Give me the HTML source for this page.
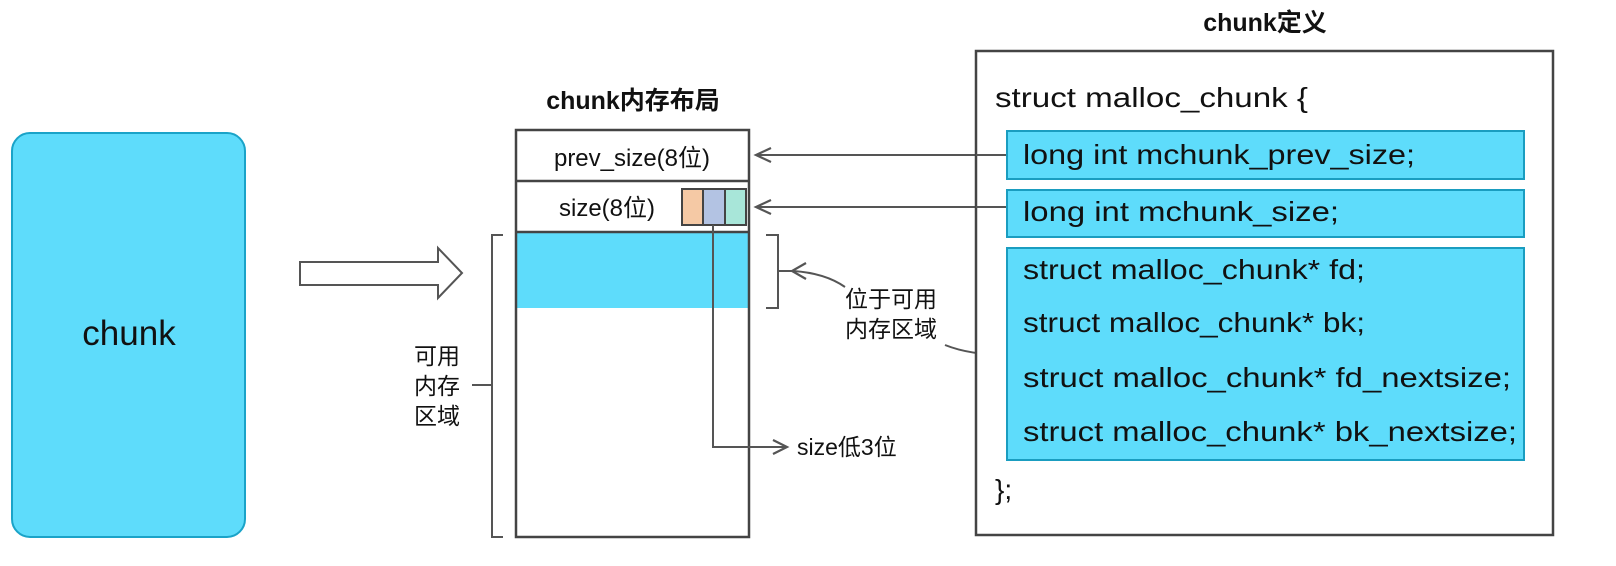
<!DOCTYPE html>
<html><head><meta charset="utf-8"><style>
html,body{margin:0;padding:0;background:#fff;}
svg{display:block;}
text{font-family:"Liberation Sans","Noto Sans CJK SC",sans-serif;fill:#111;}
</style></head><body>
<svg width="1616" height="566" viewBox="0 0 1616 566" xmlns="http://www.w3.org/2000/svg">
<!-- chunk box -->
<rect x="12" y="133" width="233" height="404" rx="18" fill="#5edcfb" stroke="#1aa3c8" stroke-width="2"/>
<text x="129" y="345" font-size="35" text-anchor="middle">chunk</text>
<!-- hollow arrow -->
<path d="M300,262 L438,262 L438,248 L462,273 L438,298 L438,285 L300,285 Z" fill="#fff" stroke="#555" stroke-width="2"/>
<!-- memory layout -->
<text x="633" y="109" font-size="25" font-weight="bold" text-anchor="middle">chunk内存布局</text>
<rect x="516" y="232" width="233" height="76" fill="#5edcfb"/>
<rect x="516" y="130" width="233" height="407" fill="none" stroke="#444" stroke-width="2.5"/>
<line x1="516" y1="181" x2="749" y2="181" stroke="#444" stroke-width="2.5"/>
<line x1="516" y1="232" x2="749" y2="232" stroke="#444" stroke-width="2.5"/>
<text x="632" y="166" font-size="24" text-anchor="middle">prev_size(8位)</text>
<text x="607" y="216" font-size="24" text-anchor="middle">size(8位)</text>
<rect x="682" y="189" width="21" height="36" fill="#f5c9a5"/>
<rect x="703" y="189" width="22" height="36" fill="#b3c3e3"/>
<rect x="725" y="189" width="21" height="36" fill="#a8e6d9"/>
<rect x="682" y="189" width="64" height="36" fill="none" stroke="#444" stroke-width="2"/>
<line x1="703" y1="189" x2="703" y2="225" stroke="#444" stroke-width="2"/>
<line x1="725" y1="189" x2="725" y2="225" stroke="#444" stroke-width="2"/>
<path d="M713,225 L713,447 L787,447" fill="none" stroke="#555" stroke-width="2"/>
<path d="M773,440 L787,447 L773,454" fill="none" stroke="#555" stroke-width="2.2"/>
<text x="797" y="455" font-size="23">size低3位</text>
<!-- left bracket -->
<path d="M503,235 L492,235 L492,537 L503,537" fill="none" stroke="#555" stroke-width="2"/>
<line x1="472" y1="385" x2="492" y2="385" stroke="#555" stroke-width="2"/>
<text x="414" y="364" font-size="23">可用</text>
<text x="414" y="394" font-size="23">内存</text>
<text x="414" y="424" font-size="23">区域</text>
<!-- right bracket -->
<path d="M766,235 L778,235 L778,308 L766,308" fill="none" stroke="#555" stroke-width="2"/>
<line x1="778" y1="271" x2="792" y2="271" stroke="#555" stroke-width="2"/>
<path d="M845,287 Q825,273 793,271" fill="none" stroke="#555" stroke-width="2"/>
<path d="M806,263 L792,271 L806,279" fill="none" stroke="#555" stroke-width="2.2"/>
<text x="845" y="307" font-size="23">位于可用</text>
<text x="845" y="337" font-size="23">内存区域</text>
<path d="M945,345 Q970,355 1007,355" fill="none" stroke="#555" stroke-width="2"/>
<!-- arrows to memory -->
<line x1="976" y1="155" x2="757" y2="155" stroke="#555" stroke-width="2"/>
<line x1="976" y1="207" x2="757" y2="207" stroke="#555" stroke-width="2"/>
<path d="M771,148 L756,155 L771,162" fill="none" stroke="#555" stroke-width="2.2"/>
<path d="M771,200 L756,207 L771,214" fill="none" stroke="#555" stroke-width="2.2"/>
<!-- struct definition -->
<text x="1265" y="31" font-size="25" font-weight="bold" text-anchor="middle">chunk定义</text>
<rect x="976" y="51" width="577" height="484" fill="#fff" stroke="#444" stroke-width="2.5"/>
<line x1="1007" y1="155" x2="976" y2="155" stroke="#555" stroke-width="2"/>
<line x1="1007" y1="207" x2="976" y2="207" stroke="#555" stroke-width="2"/>
<text x="995" y="107" font-size="28" textLength="313" lengthAdjust="spacingAndGlyphs">struct malloc_chunk {</text>
<rect x="1007" y="131" width="517" height="48" fill="#5edcfb" stroke="#1a9dc0" stroke-width="2"/>
<rect x="1007" y="190" width="517" height="47" fill="#5edcfb" stroke="#1a9dc0" stroke-width="2"/>
<rect x="1007" y="248" width="517" height="212" fill="#5edcfb" stroke="#1a9dc0" stroke-width="2"/>
<text x="1023" y="164" font-size="28" textLength="392" lengthAdjust="spacingAndGlyphs">long int mchunk_prev_size;</text>
<text x="1023" y="221" font-size="28" textLength="316" lengthAdjust="spacingAndGlyphs">long int mchunk_size;</text>
<text x="1023" y="279" font-size="28" textLength="342" lengthAdjust="spacingAndGlyphs">struct malloc_chunk* fd;</text>
<text x="1023" y="332" font-size="28" textLength="342" lengthAdjust="spacingAndGlyphs">struct malloc_chunk* bk;</text>
<text x="1023" y="387" font-size="28" textLength="488" lengthAdjust="spacingAndGlyphs">struct malloc_chunk* fd_nextsize;</text>
<text x="1023" y="441" font-size="28" textLength="494" lengthAdjust="spacingAndGlyphs">struct malloc_chunk* bk_nextsize;</text>
<text x="995" y="499" font-size="28">};</text>
</svg>
</body></html>
